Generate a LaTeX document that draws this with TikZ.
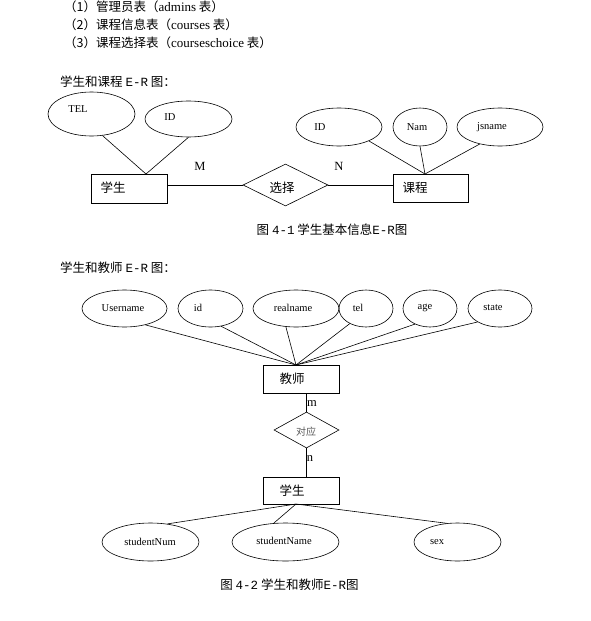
\documentclass[tikz,border=0pt]{standalone}
\usepackage{fontspec}
\setmainfont{Liberation Serif}
\newfontfamily\cjk{Noto Sans CJK SC}
\newfontfamily\mono{Liberation Mono}
\usetikzlibrary{shapes.geometric}
\begin{document}
\begin{tikzpicture}[x=1pt,y=-1pt,
  every node/.style={inner sep=0pt},
  attr/.style={draw, ellipse, inner sep=0pt, line width=0.6pt},
  ent/.style={draw, rectangle, inner sep=0pt, line width=0.6pt},
  rel/.style={draw, diamond, aspect=2, inner sep=0pt, line width=0.6pt},
  lat/.style={font=\fontsize{10.5}{12}\selectfont},
  zh/.style={font=\cjk\fontsize{12.5}{14}\selectfont},
  hd/.style={font=\cjk\fontsize{12.5}{14}\selectfont},
  card/.style={font=\fontsize{12.5}{14}\selectfont},
  conn/.style={draw, line width=0.6pt}]
\useasboundingbox (0,0) rectangle (591,621);

% header lines
\node[hd, anchor=west] (h1) at (64,7) {（1）管理员表（{\rmfamily\fontsize{13}{14}\selectfont admins} 表）};
\node[hd, anchor=west] (h2) at (64,25) {（2）课程信息表（{\rmfamily\fontsize{13}{14}\selectfont courses} 表）};
\node[hd, anchor=west] (h3) at (64,43) {（3）课程选择表（{\rmfamily\fontsize{13}{14}\selectfont courseschoice} 表）};

% ---------- diagram 1 ----------
\node[zh, anchor=west] (l1) at (60,82) {学生和课程 {\mono E-R} 图：};

\node[attr, minimum width=87pt, minimum height=44pt] (tel) at (91.5,114) {};
\node[lat] (ttel) at (78,109) {TEL};
\node[attr, minimum width=87pt, minimum height=36pt] (id1) at (188.5,119) {};
\node[lat] (tid1) at (170,117) {ID};

\node[ent, minimum width=76pt, minimum height=29pt] (s1) at (129,188.5) {};
\node[zh] (ts1) at (113,188) {学生};
\node[rel, minimum width=85pt, minimum height=42pt] (r1) at (285.5,185) {};
\node[zh] (tr1) at (282,188) {选择};
\node[ent, minimum width=75pt, minimum height=28pt] (c1) at (430.5,188) {};
\node[zh] (tc1) at (415,188) {课程};

\node[attr, minimum width=86pt, minimum height=38pt] (id2) at (339,127) {};
\node[lat] (tid2) at (320,127) {ID};
\node[attr, minimum width=54pt, minimum height=38pt] (nam) at (420,127) {};
\node[lat] (tnam) at (417,127) {Nam};
\node[attr, minimum width=86pt, minimum height=38pt] (js) at (500,127) {};
\node[lat] (tjs) at (492,127) {jsname};

\coordinate (a1) at (146,174);
\coordinate (b1) at (425,174);
\draw[conn] (tel.-63) -- (a1);
\draw[conn] (id1.south) -- (a1);
\draw[conn] (id2.-25) -- (b1);
\draw[conn] (nam.south) -- (b1);
\draw[conn] (js.-140) -- (b1);
\draw[conn] (s1.east |- r1.west) -- (r1.west);
\draw[conn] (r1.east) -- (r1.east -| c1.west);

\node[card] (M) at (200,166) {M};
\node[card] (N) at (339,166) {N};

\node[zh] (cap1) at (332,230) {图 {\mono 4-1} 学生基本信息{\mono E-R}图};

% ---------- diagram 2 ----------
\node[zh, anchor=west] (l2) at (60,268) {学生和教师 {\mono E-R} 图：};

\node[attr, minimum width=85pt, minimum height=37pt] (un) at (124.5,308.5) {};
\node[lat] (tun) at (123,308) {Username};
\node[attr, minimum width=65pt, minimum height=37pt] (id3) at (210.5,308.5) {};
\node[lat] (tid3) at (198,308) {id};
\node[attr, minimum width=86pt, minimum height=37pt] (rn) at (296,308.5) {};
\node[lat] (trn) at (293,308) {realname};
\node[attr, minimum width=54pt, minimum height=37pt] (tl) at (366,308.5) {};
\node[lat] (ttl) at (358,308) {tel};
\node[attr, minimum width=54pt, minimum height=37pt] (ag) at (430,308.5) {};
\node[lat] (tag) at (425,308) {age};
\node[attr, minimum width=64pt, minimum height=37pt] (st) at (500,308.5) {};
\node[lat] (tst) at (493,308) {state};

\node[ent, minimum width=76pt, minimum height=28pt] (t2) at (301,379) {};
\node[zh] (tt2) at (292,379) {教师};
\node[rel, minimum width=65pt, minimum height=36pt] (r2) at (306.5,430) {};
\node[font=\cjk\fontsize{10}{12}\selectfont, text=black!65] (tr2) at (306,432) {对应};
\node[ent, minimum width=76pt, minimum height=27pt] (s2) at (301,490.5) {};
\node[zh] (ts2) at (292,491) {学生};

\coordinate (a2) at (296,365);
\draw[conn] (un.-38) -- (a2);
\draw[conn] (id3.-59) -- (a2);
\draw[conn] (rn.-119) -- (a2);
\draw[conn] (tl.-137) -- (a2);
\draw[conn] (ag.-134) -- (a2);
\draw[conn] (st.-149) -- (a2);

\draw[conn] (r2.north) -- (r2.north |- t2.south);
\draw[conn] (r2.south) -- (r2.south |- s2.north);
\node[card] (m2) at (312,404) {m};
\node[card] (n2) at (310,459) {n};

\node[attr, minimum width=97pt, minimum height=38pt] (sn) at (150.5,542) {};
\node[lat] (tsn) at (150,542) {studentNum};
\node[attr, minimum width=107pt, minimum height=38pt] (sm) at (285.5,542) {};
\node[lat] (tsm) at (284,541) {studentName};
\node[attr, minimum width=87pt, minimum height=38pt] (sx) at (457.5,542) {};
\node[lat] (tsx) at (437,542) {sex};

\coordinate (a3) at (296,504);
\draw[conn] (sn.47) -- (a3);
\draw[conn] (sm.122) -- (a3);
\draw[conn] (sx.120) -- (a3);

\node[zh] (cap2) at (289.5,585) {图 {\mono 4-2} 学生和教师{\mono E-R}图};
\end{tikzpicture}
\end{document}
